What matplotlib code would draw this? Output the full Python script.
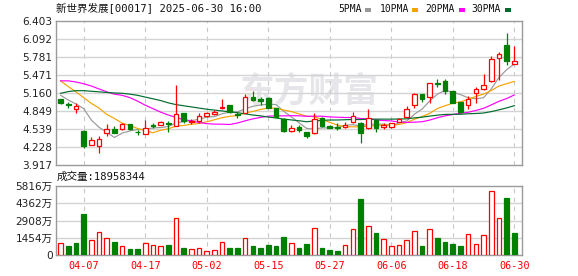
import numpy as np
import matplotlib
matplotlib.use("Agg")
import matplotlib.pyplot as plt
from matplotlib.patches import Rectangle

# ---------------- data ----------------
dates = ["04-01", "04-02", "04-03", "04-07", "04-08", "04-09", "04-10", "04-11",
         "04-14", "04-15", "04-16", "04-17", "04-22", "04-23", "04-24", "04-25",
         "04-28", "04-29", "04-30", "05-02", "05-06", "05-07", "05-08", "05-09",
         "05-12", "05-13", "05-14", "05-15", "05-16", "05-19", "05-20", "05-21",
         "05-22", "05-23", "05-26", "05-27", "05-28", "05-29", "05-30", "06-02",
         "06-03", "06-04", "06-05", "06-06", "06-09", "06-10", "06-11", "06-12",
         "06-13", "06-16", "06-17", "06-18", "06-19", "06-20", "06-23", "06-24",
         "06-25", "06-26", "06-27", "06-30"]

opens = [5.050, 4.965, 4.888, 4.502, 4.255, 4.243, 4.473, 4.537, 4.532, 4.618,
         4.490, 4.445, 4.600, 4.611, 4.650, 4.589, 4.813, 4.660, 4.670, 4.767,
         4.800, 4.895, 4.952, 4.800, 4.819, 5.095, 5.050, 5.073, 4.895, 4.710,
         4.502, 4.575, 4.490, 4.463, 4.722, 4.590, 4.575, 4.575, 4.663, 4.646,
         4.549, 4.693, 4.566, 4.566, 4.663, 4.740, 4.952, 5.142, 5.085, 5.340,
         5.372, 5.193, 5.003, 4.946, 5.154, 5.233, 5.366, 5.758, 5.988, 5.666]
highs = [5.060, 5.010, 4.981, 4.520, 4.404, 4.416, 4.618, 4.590, 4.635, 4.630,
         4.520, 4.692, 4.640, 4.680, 4.680, 5.297, 4.820, 4.710, 4.808, 4.836,
         4.870, 5.050, 4.960, 4.830, 5.142, 5.198, 5.095, 5.085, 4.900, 4.720,
         4.606, 4.606, 4.490, 4.808, 4.750, 4.600, 4.635, 4.660, 4.836, 4.660,
         4.877, 4.700, 4.635, 4.650, 4.720, 4.934, 5.165, 5.150, 5.337, 5.410,
         5.395, 5.200, 5.010, 5.107, 5.263, 5.482, 5.798, 5.867, 6.196, 5.971]
lows = [4.964, 4.905, 4.808, 4.203, 4.255, 4.127, 4.416, 4.463, 4.520, 4.520,
        4.430, 4.445, 4.560, 4.611, 4.490, 4.589, 4.650, 4.620, 4.646, 4.740,
        4.780, 4.890, 4.820, 4.730, 4.810, 5.026, 4.950, 4.900, 4.745, 4.485,
        4.485, 4.490, 4.387, 4.460, 4.580, 4.550, 4.520, 4.550, 4.635, 4.290,
        4.545, 4.490, 4.530, 4.550, 4.660, 4.740, 4.895, 5.010, 4.990, 5.270,
        5.142, 4.980, 4.820, 4.877, 4.992, 5.206, 5.349, 5.378, 5.638, 5.666]
closes = [4.981, 4.955, 4.934, 4.243, 4.347, 4.359, 4.537, 4.473, 4.623, 4.532,
          4.480, 4.559, 4.590, 4.658, 4.620, 4.791, 4.670, 4.680, 4.767, 4.813,
          4.830, 4.917, 4.831, 4.780, 5.085, 5.038, 5.030, 4.905, 4.750, 4.503,
          4.554, 4.520, 4.416, 4.705, 4.594, 4.560, 4.550, 4.600, 4.762, 4.473,
          4.722, 4.549, 4.604, 4.635, 4.710, 4.877, 5.142, 5.050, 5.327, 5.310,
          5.199, 4.992, 4.836, 5.050, 5.223, 5.292, 5.741, 5.838, 5.720, 5.705]
# volume in 万 shares
volumes = [983, 759, 1012, 3484, 1265, 1939, 1433, 1124, 731, 534,
           534, 983, 815, 759, 843, 3119, 618, 506, 562, 337,
           422, 1068, 618, 618, 1433, 759, 590, 843, 759, 1546,
           983, 618, 927, 2276, 618, 422, 337, 815, 2164, 4721,
           2417, 1883, 1349, 759, 815, 1293, 2023, 759, 2192, 1433,
           1096, 955, 759, 1770, 927, 1686, 5395, 3119, 4833, 1896]

# moving-average values before enough in-window closes exist
ma5_head = [5.12, 5.04, 4.97, 4.89]
ma10_head = [5.37, 5.27, 5.18, 5.08, 4.98, 4.90, 4.79, 4.72, 4.64]
ma20_head = [5.37, 5.37, 5.35, 5.32, 5.28, 5.23, 5.18, 5.14, 5.12, 5.08,
             5.02, 4.95, 4.89, 4.83, 4.78, 4.74, 4.70, 4.68, 4.65]
ma30_head = [5.154, 5.185, 5.20, 5.20, 5.19, 5.18, 5.17, 5.16, 5.155, 5.14,
             5.12, 5.09, 5.06, 5.03, 4.99, 4.96, 4.94, 4.92, 4.90, 4.88,
             4.865, 4.85, 4.835, 4.82, 4.80, 4.78, 4.765, 4.745, 4.73]

price_ticks = ["3.917", "4.228", "4.539", "4.849", "5.160", "5.471", "5.781", "6.092", "6.403"]
vol_ticks = ["0", "1454万", "2908万", "4362万", "5816万"]
date_tick_labels = ["04-07", "04-17", "05-02", "05-15", "05-27", "06-06", "06-18", "06-30"]
ma_names = ["5PMA", "10PMA", "20PMA", "30PMA"]
title = "新世界发展[00017] 2025-06-30 16:00"
vol_title = "成交量:18958344"

# ---------------- styling ----------------
RED = "#ff0000"
GREEN = "#008000"
MA_COLORS = ["#999999", "#f5a300", "#ff00ff", "#006b2d"]
GRID = "#d4d4d4"
FRAME = "#9a9a9a"
TXT = "#222222"

W, H = 578, 276
fx = lambda x: x / W
fy = lambda y: 1 - y / H

fig = plt.figure(figsize=(W / 100, H / 100), dpi=100)
ax1 = fig.add_axes([fx(56), fy(165), (522 - 56) / W, (165 - 21) / H])
ax2 = fig.add_axes([fx(56), fy(255), (522 - 56) / W, (255 - 186) / H])

o = np.array(opens); h = np.array(highs); l = np.array(lows); c = np.array(closes)
v = np.array(volumes)
n = len(c)
x = np.arange(n)


def ma(head, k):
    vals = list(head)
    for i in range(k - 1, n):
        vals.append(c[i - k + 1:i + 1].mean())
    return np.array(vals)


mas = [ma(ma5_head, 5), ma(ma10_head, 10), ma(ma20_head, 20), ma(ma30_head, 30)]

pvals = [float(t) for t in price_ticks]
pmin, pmax = pvals[0], pvals[-1]
vmax = float(vol_ticks[-1].replace("万", ""))
tick_idx = [dates.index(d) for d in date_tick_labels]

for ax in (ax1, ax2):
    ax.set_xlim(-0.6, n)
    for s in ax.spines.values():
        s.set_color(FRAME)
        s.set_linewidth(1.0)
    ax.tick_params(length=0)
    for t in tick_idx:
        ax.axvline(t, color="#c8c8c8", lw=0.8, ls=(0, (4, 4)), zorder=1)

# price panel
ax1.set_ylim(pmin, pmax)
ax1.set_yticks(pvals)
ax1.set_yticklabels(price_ticks, fontsize=7.6, color=TXT, family="DejaVu Sans")
ax1.tick_params(axis="y", pad=2.5)
ax1.set_xticks([])
for pv in pvals[1:-1]:
    ax1.axhline(pv, color=GRID, lw=1.0, zorder=1)

ax1.text(fx(309), fy(91), "东方财富", transform=fig.transFigure, ha="center", va="center",
         fontsize=25, fontweight="bold", color="#e6e6ea", family="Noto Sans CJK SC",
         zorder=0.8)

for m, col in zip(mas, MA_COLORS):
    ax1.plot(x, m, color=col, lw=0.85, zorder=2)

up = c >= o
ax1.vlines(x, l, h, colors=np.where(up, RED, GREEN), lw=0.9, zorder=3)
body_bottom = np.minimum(o, c)
body_h = np.abs(c - o)
ax1.bar(x[up], body_h[up], bottom=body_bottom[up], width=0.6,
        facecolor="white", edgecolor=RED, linewidth=0.9, zorder=4)
ax1.bar(x[~up], body_h[~up], bottom=body_bottom[~up], width=0.6,
        facecolor=GREEN, edgecolor=GREEN, linewidth=0.9, zorder=4)

# volume panel
vol_up = np.r_[True, c[1:] >= c[:-1]]
ax2.set_ylim(0, vmax)
vt = [float(t.replace("万", "")) for t in vol_ticks]
ax2.set_yticks(vt)
ax2.set_yticklabels(vol_ticks, fontsize=7.6, color=TXT,
                    family=["DejaVu Sans", "Noto Sans CJK SC"])
ax2.tick_params(axis="y", pad=2.5)
for vv in vt[1:-1]:
    ax2.axhline(vv, color=GRID, lw=1.0, zorder=1)
ax2.bar(x[vol_up], v[vol_up], width=0.6, facecolor="white", edgecolor=RED,
        linewidth=0.9, zorder=3)
ax2.bar(x[~vol_up], v[~vol_up], width=0.6, facecolor=GREEN, edgecolor=GREEN,
        linewidth=0.9, zorder=3)
ax2.set_xticks(tick_idx)
ax2.set_xticklabels(date_tick_labels, fontsize=7.3, color=RED, family="DejaVu Sans Mono")
ax2.tick_params(axis="x", pad=4)

# header texts
fig.text(fx(56), fy(8.5), title, ha="left", va="center", fontsize=7.6, color="#111111",
         family=["DejaVu Sans Mono", "Noto Sans CJK SC"])
fig.text(fx(57), fy(176.5), vol_title, ha="left", va="center", fontsize=7.6, color="#111111",
         family=["DejaVu Sans Mono", "Noto Sans CJK SC"])

leg_text_x = [338.7, 379.7, 425.7, 471.3]
leg_mark_x = [364.7, 412.3, 459.0, 504.7]
for name, col, tx, mx in zip(ma_names, MA_COLORS, leg_text_x, leg_mark_x):
    fig.text(fx(tx), fy(8.5), name, ha="left", va="center", fontsize=7.0,
             color="#111111", family="DejaVu Sans Mono")
    fig.patches.append(Rectangle((fx(mx), fy(11.5)), 6 / W, 3 / H, transform=fig.transFigure,
                                 facecolor=col, edgecolor="none"))

fig.savefig("out.png", dpi=100, facecolor="white")
